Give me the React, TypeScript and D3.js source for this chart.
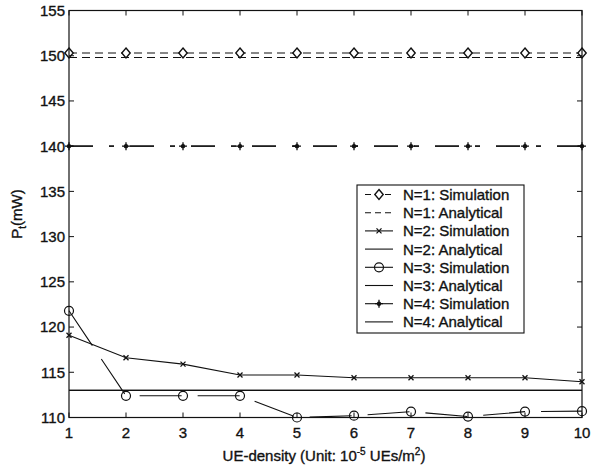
import React from "react";
import * as d3 from "d3";

const xValues = [1, 2, 3, 4, 5, 6, 7, 8, 9, 10];
const n1Sim = [150.3, 150.3, 150.3, 150.3, 150.3, 150.3, 150.3, 150.3, 150.3, 150.3];
const n1Ana = [149.8, 149.8, 149.8, 149.8, 149.8, 149.8, 149.8, 149.8, 149.8, 149.8];
const n2Sim = [119.1, 116.6, 115.9, 114.7, 114.7, 114.4, 114.4, 114.4, 114.4, 113.95];
const n2Ana = [113.0, 113.0, 113.0, 113.0, 113.0, 113.0, 113.0, 113.0, 113.0, 113.0];
const n3Sim = [121.8, 112.4, 112.4, 112.4, 110.0, 110.2, 110.65, 110.1, 110.65, 110.7];
const n3Ana = [113.0, 113.0, 113.0, 113.0, 113.0, 113.0, 113.0, 113.0, 113.0, 113.0];
const n4Sim = [140, 140, 140, 140, 140, 140, 140, 140, 140, 140];
const n4Ana = [140, 140, 140, 140, 140, 140, 140, 140, 140, 140];
const yTicks = [110, 115, 120, 125, 130, 135, 140, 145, 150, 155];
const xTicks = [1, 2, 3, 4, 5, 6, 7, 8, 9, 10];
const legendLabels = [
  "N=1: Simulation",
  "N=1: Analytical",
  "N=2: Simulation",
  "N=2: Analytical",
  "N=3: Simulation",
  "N=3: Analytical",
  "N=4: Simulation",
  "N=4: Analytical",
];

const FONT = "'Liberation Sans', Arial, sans-serif";
const INK = "#111";
const TEXT_STROKE = 0.35;

type MarkerKind = "diamond" | "x" | "circle" | "star" | "none";

function Marker({ kind, cx, cy }: { kind: MarkerKind; cx: number; cy: number }) {
  if (kind === "diamond") {
    return (
      <path
        d={`M${cx},${cy - 5}L${cx + 4.2},${cy}L${cx},${cy + 5}L${cx - 4.2},${cy}Z`}
        fill="white"
        stroke={INK}
        strokeWidth={1.4}
      />
    );
  }
  if (kind === "x") {
    return (
      <path
        d={`M${cx - 2.5},${cy - 2.5}L${cx + 2.5},${cy + 2.5}M${cx - 2.5},${cy + 2.5}L${cx + 2.5},${cy - 2.5}`}
        stroke={INK}
        strokeWidth={1.3}
      />
    );
  }
  if (kind === "circle") {
    return <circle cx={cx} cy={cy} r={4.5} fill="none" stroke={INK} strokeWidth={1.2} />;
  }
  if (kind === "star") {
    return (
      <g>
        <path
          d={`M${cx - 4},${cy}L${cx + 4},${cy}M${cx},${cy - 4}L${cx},${cy + 4}`}
          stroke={INK}
          strokeWidth={1.3}
        />
        <circle cx={cx} cy={cy} r={2.2} fill={INK} />
      </g>
    );
  }
  return null;
}

export default function App() {
  const left = 69;
  const right = 582;
  const top = 10.5;
  const bottom = 417.5;
  const x = d3.scaleLinear().domain([1, 10]).range([left, right]);
  const y = d3.scaleLinear().domain([110, 155]).range([bottom, top]);
  const line = d3
    .line<number>()
    .x((_, i) => x(xValues[i]))
    .y((d) => y(d));

  const series: {
    data: number[];
    dash: string | undefined;
    marker: MarkerKind;
  }[] = [
    { data: n1Sim, dash: "8,5", marker: "diamond" },
    { data: n1Ana, dash: "8,5", marker: "none" },
    { data: n2Sim, dash: undefined, marker: "x" },
    { data: n2Ana, dash: undefined, marker: "none" },
    { data: n3Sim, dash: "42,16", marker: "circle" },
    { data: n3Ana, dash: undefined, marker: "none" },
    { data: n4Sim, dash: "24,16,5,16", marker: "star" },
    { data: n4Ana, dash: "24,16,5,16", marker: "none" },
  ];

  const legX = 357;
  const legY = 185;
  const legW = 167;
  const legH = 148;
  const rowH = 18.2;
  const firstRow = 194.5;

  const textProps = {
    fontFamily: FONT,
    fontSize: 15,
    fill: INK,
    stroke: INK,
    strokeWidth: TEXT_STROKE,
  };

  return (
    <div style={{ position: "absolute", left: 0, top: 0 }}>
      <svg width={591} height={468} style={{ display: "block", background: "white" }}>
        <rect x={0} y={0} width={591} height={468} fill="white" />
        {series.map((s, si) => (
          <g key={si}>
            <path
              d={line(s.data) || ""}
              fill="none"
              stroke={INK}
              strokeWidth={1.1}
              strokeDasharray={s.dash}
            />
            {s.marker !== "none" &&
              s.data.map((v, i) => (
                <Marker key={i} kind={s.marker} cx={x(xValues[i])} cy={y(v)} />
              ))}
          </g>
        ))}
        <rect
          x={left}
          y={top}
          width={right - left}
          height={bottom - top}
          fill="none"
          stroke={INK}
          strokeWidth={1.2}
        />
        {yTicks.map((t) => (
          <g key={t}>
            <line x1={left} x2={left + 5} y1={y(t)} y2={y(t)} stroke={INK} />
            <line x1={right} x2={right - 5} y1={y(t)} y2={y(t)} stroke={INK} />
            <text x={65} y={y(t)} dy="0.36em" textAnchor="end" {...textProps}>
              {t}
            </text>
          </g>
        ))}
        {xTicks.map((t) => (
          <g key={t}>
            <line x1={x(t)} x2={x(t)} y1={bottom} y2={bottom - 5} stroke={INK} />
            <line x1={x(t)} x2={x(t)} y1={top} y2={top + 5} stroke={INK} />
            <text x={x(t)} y={438} textAnchor="middle" {...textProps}>
              {t}
            </text>
          </g>
        ))}
        <text x={324} y={461} textAnchor="middle" {...textProps}>
          UE-density (Unit: 10
          <tspan dy={-6} fontSize={10}>
            -5
          </tspan>
          <tspan dy={6}> UEs/m</tspan>
          <tspan dy={-6} fontSize={10}>
            2
          </tspan>
          <tspan dy={6}>)</tspan>
        </text>
        <text
          transform={`translate(22,${(top + bottom) / 2}) rotate(-90)`}
          textAnchor="middle"
          {...textProps}
        >
          P
          <tspan dy={4} fontSize={10}>
            t
          </tspan>
          <tspan dy={-4}>(mW)</tspan>
        </text>
        <rect x={legX} y={legY} width={legW} height={legH} fill="white" stroke={INK} strokeWidth={1.1} />
        {series.map((s, i) => {
          const cy = firstRow + i * rowH;
          return (
            <g key={i}>
              <line
                x1={365}
                x2={393}
                y1={cy}
                y2={cy}
                stroke={INK}
                strokeWidth={1.1}
                strokeDasharray={s.dash === "8,5" ? "6,4" : undefined}
              />
              {s.marker !== "none" && <Marker kind={s.marker} cx={379} cy={cy} />}
              <text x={403} y={cy} dy="0.36em" {...textProps}>
                {legendLabels[i]}
              </text>
            </g>
          );
        })}
      </svg>
    </div>
  );
}
